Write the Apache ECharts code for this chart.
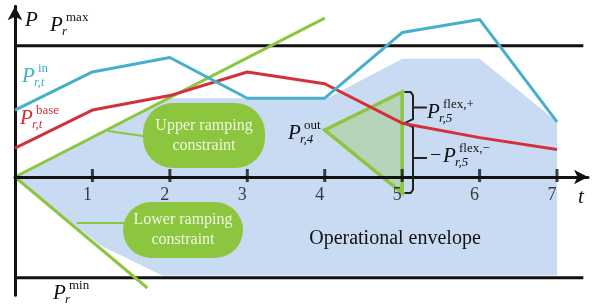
<!DOCTYPE html>
<html>
<head>
<meta charset="utf-8">
<script src="https://cdn.jsdelivr.net/npm/echarts@6/dist/echarts.min.js"></script>
<style>
  html, body { margin: 0; padding: 0; background: #fff; }
  #main { width: 592px; height: 304px; }
</style>
</head>
<body>
<div id="main"></div>
<script>
// time steps and the two power profiles
const tSteps = [0, 1, 2, 3, 4, 5, 6, 7];
const pIn = [5.1, 8.0, 9.1, 6.0, 6.0, 11.0, 12.0, 4.2];
const pBase = [2.2, 5.1, 6.2, 8.0, 7.1, 4.1, 3.0, 2.1];
const tickLabels = ['1', '2', '3', '4', '5', '6', '7'];

const pMax = 10;
const pMin = -7.67;
const limitEnd = 7.34;

// ramping constraints from the origin
const upperRampT = [0, 4.0];
const upperRampP = [0, 12.1];
const lowerRampT = [0, 1.71];
const lowerRampP = [0, -8.45];

// operational envelope outline
const envelopeT = [0, 2.0, 4.03, 5.0, 6.0, 7.0, 7.0, 1.9, 1.1];
const envelopeP = [0, 6.0, 6.0, 9.0, 9.0, 4.2, -7.5, -7.5, -5.2];

// P_out,4 -> flexibility triangle at t=5
const outT = [4, 5, 5];
const outP = [3.58, 6.47, -1.22];

const SERIF = '"Liberation Serif", "DejaVu Serif", serif';
const GREEN = '#8cc63e';
const CYAN = '#45b0cb';
const RED = '#d3303c';
const BLUE = '#c9daf3';
const INK = '#111';

const zip = (a, b) => a.map((v, i) => [v, b[i]]);

// little math label: P with superscript and subscript
function sym(x, y, color, sup, sub, prefix) {
  const out = [];
  let px = x;
  if (prefix) {
    out.push({ type: 'text', x: x, y: y, z: 50,
      style: { text: prefix, font: '20px ' + SERIF, fill: color, verticalAlign: 'middle' } });
    px = x + 13;
  }
  out.push({ type: 'text', x: px, y: y, z: 50,
    style: { text: 'P', font: 'italic 21px ' + SERIF, fill: color, verticalAlign: 'middle' } });
  if (sup) out.push({ type: 'text', x: px + 16, y: y - 7, z: 50,
    style: { text: sup, font: '13px ' + SERIF, fill: color, verticalAlign: 'middle' } });
  if (sub) out.push({ type: 'text', x: px + 12, y: y + 7, z: 50,
    style: { text: sub, font: 'italic 13px ' + SERIF, fill: color, verticalAlign: 'middle' } });
  return out;
}

function box(x, y, w, h, lines) {
  return [
    { type: 'rect', z: 30, shape: { x: x, y: y, width: w, height: h, r: Math.min(h / 2, 30) },
      style: { fill: GREEN } },
    { type: 'text', z: 31, x: x + w / 2, y: y + h / 2,
      style: { text: lines.join('\n'), font: '16px ' + SERIF, fill: '#f1f6e2',
        align: 'center', verticalAlign: 'middle', lineHeight: 20 } }
  ];
}

function link(x1, y1, x2, y2) {
  return { type: 'line', z: 29, shape: { x1: x1, y1: y1, x2: x2, y2: y2 },
    style: { stroke: GREEN, lineWidth: 2 } };
}

// brace beside the triangle, built from its corners and the base value at t=5
const bTop = outP[1], bBot = outP[2], bMid = pBase[5];
const bx0 = 5.03, bx1 = 5.14, bx2 = 5.32;
const braceSegs = [
  [[bx0, bTop], [bx1 - 0.03, bTop], [bx1, bTop - 0.25], [bx1, bMid + 0.3], [bx0, bMid],
   [bx1, bMid - 0.3], [bx1, bBot + 0.25], [bx1 - 0.03, bBot], [bx0, bBot]],
  [[bx1, (bTop + bMid) / 2], [bx2, (bTop + bMid) / 2]],
  [[bx1, (bMid + bBot) / 2], [bx2, (bMid + bBot) / 2]]
];

const chart = echarts.init(document.getElementById('main'));

const lineSeries = (data, color, z) => ({
  type: 'line', data: data, showSymbol: false, silent: true, z: z,
  lineStyle: { color: color, width: 3 }
});

chart.setOption({
  animation: false,
  grid: { left: 15, right: 4, top: 6.3, bottom: 8.8, containLabel: false, outerBoundsMode: 'none' },
  xAxis: {
    type: 'value', min: 0, max: 7.4, interval: 1, z: 10,
    axisLine: { onZero: true, symbol: ['none', 'arrow'], symbolSize: [11, 14],
      lineStyle: { color: INK, width: 3 } },
    axisTick: { show: false },
    splitLine: { show: false },
    axisLabel: { show: false }
  },
  yAxis: {
    type: 'value', min: -9, max: 13, z: 10,
    axisLine: { show: true, onZero: false, symbol: ['none', 'arrow'], symbolSize: [11, 14],
      lineStyle: { color: INK, width: 3 } },
    axisTick: { show: false },
    axisLabel: { show: false },
    splitLine: { show: false }
  },
  series: [
    {
      type: 'custom', silent: true, z: 1, clip: false,
      data: [[0, 0]],
      renderItem: (params, api) => ({
        type: 'polygon',
        shape: { points: zip(envelopeT, envelopeP).map(p => api.coord(p)) },
        style: { fill: BLUE }
      })
    },
    {
      type: 'custom', silent: true, z: 3, clip: false,
      data: [[0, 0]],
      renderItem: (params, api) => ({
        type: 'polygon',
        shape: { points: zip(outT, outP).map(p => api.coord(p)) },
        style: { fill: 'rgba(140,198,62,0.32)', stroke: GREEN, lineWidth: 3.5, lineJoin: 'miter' }
      })
    },
    lineSeries([[0, pMax], [limitEnd, pMax]], INK, 4),
    lineSeries([[0, pMin], [limitEnd, pMin]], INK, 4),
    lineSeries(zip(upperRampT, upperRampP), GREEN, 5),
    lineSeries(zip(lowerRampT, lowerRampP), GREEN, 5),
    {
      // axis ticks crossing the time axis, with their labels
      type: 'scatter', silent: true, z: 11,
      data: tickLabels.map((_, i) => [i + 1, 0]),
      symbol: 'rect', symbolSize: [3, 13], symbolOffset: [0, -1.5],
      itemStyle: { color: INK },
      label: {
        show: true, position: 'bottom', distance: 4, offset: [-5, 0],
        formatter: p => tickLabels[p.dataIndex],
        fontFamily: SERIF, fontSize: 18, color: INK
      }
    },
    {
      type: 'lines', coordinateSystem: 'cartesian2d', polyline: true, silent: true, z: 12,
      data: braceSegs.map(c => ({ coords: c })),
      lineStyle: { color: '#222', width: 2, opacity: 1 }
    },
    lineSeries(zip(tSteps, pBase), RED, 13),
    lineSeries(zip(tSteps, pIn), CYAN, 14)
  ],
  graphic: {
    elements: [
      link(108, 131, 150, 137),
      link(77, 223, 130, 223),
      ...box(143, 103, 122, 65, ['Upper ramping', 'constraint']),
      ...box(123, 202, 120, 56, ['Lower ramping', 'constraint']),
      { type: 'text', x: 395, y: 239, z: 50,
        style: { text: 'Operational envelope', font: '20px ' + SERIF, fill: INK,
          align: 'center', verticalAlign: 'middle' } },
      { type: 'text', x: 578, y: 197, z: 50,
        style: { text: 't', font: 'italic 21px ' + SERIF, fill: INK, verticalAlign: 'middle' } },
      ...sym(25, 20, INK),
      ...sym(50, 25, INK, 'max', 'r'),
      ...sym(22, 76, CYAN, 'in', 'r,t'),
      ...sym(20, 118, RED, 'base', 'r,t'),
      ...sym(53, 293, INK, 'min', 'r'),
      ...sym(288, 133, INK, 'out', 'r,4'),
      ...sym(427, 112, INK, 'flex,+', 'r,5'),
      ...sym(430, 156, INK, 'flex,\u2212', 'r,5', '\u2212')
    ]
  }
});
</script>
</body>
</html>
